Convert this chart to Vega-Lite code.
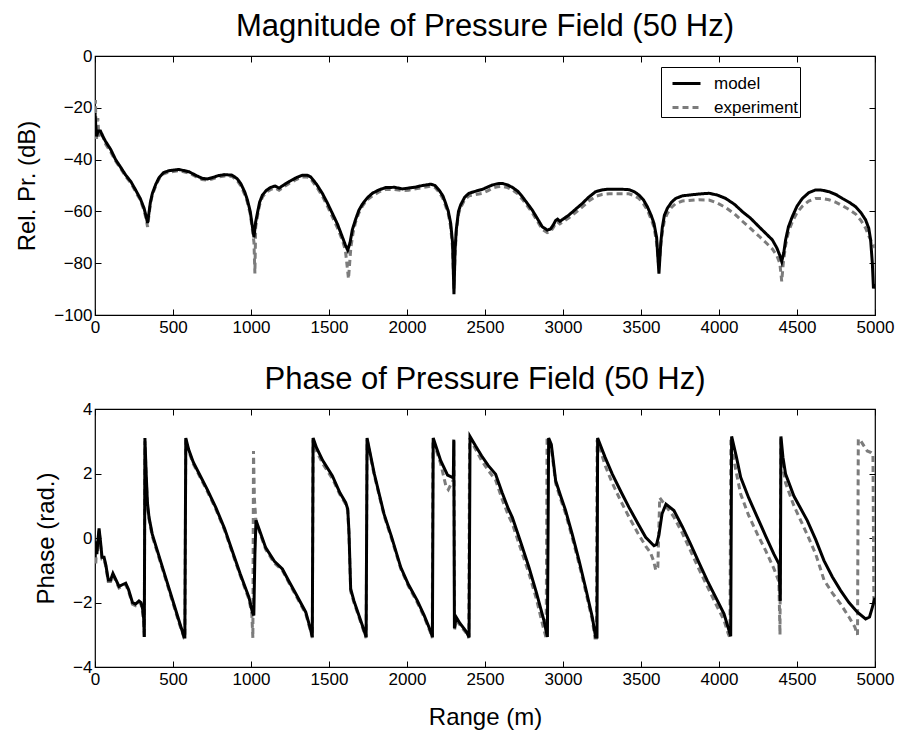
{
 "$schema": "https://vega.github.io/schema/vega-lite/v6.json",
 "background": "white",
 "padding": {"left": 15, "top": 10, "right": 2, "bottom": 0},
 "spacing": 27,
 "config": {
  "view": {"stroke": "black", "strokeWidth": 1.2},
  "font": "Liberation Sans",
  "axis": {"grid": false, "domain": false, "ticks": true, "tickColor": "black", "tickSize": -6, "tickWidth": 1,
   "labelFont": "Liberation Sans", "labelFontSize": 17, "labelColor": "black", "labelFlush": false, "labelOverlap": false,
   "titleFont": "Liberation Sans", "titleFontSize": 24, "titleFontWeight": "normal", "titleColor": "black"},
  "axisY": {"titlePadding": 14, "labelPadding": 9},
  "axisX": {"titlePadding": 18, "labelPadding": 10, "format": "d"},
  "title": {"font": "Liberation Sans", "fontSize": 31, "fontWeight": "normal", "color": "black", "anchor": "middle", "baseline": "alphabetic", "offset": 4}
 },
 "datasets": {
  "mag": [
   {"r":0,"v":-22,"s":"model"},{"r":5,"v":-27,"s":"model"},{"r":10,"v":-31,"s":"model"},{"r":20,"v":-29,"s":"model"},{"r":35,"v":-29,"s":"model"},{"r":50,"v":-31,"s":"model"},{"r":68,"v":-33,"s":"model"},{"r":100,"v":-36,"s":"model"},{"r":132,"v":-40,"s":"model"},{"r":165,"v":-43,"s":"model"},{"r":197,"v":-46,"s":"model"},{"r":230,"v":-48.5,"s":"model"},{"r":261,"v":-51.8,"s":"model"},{"r":290,"v":-55,"s":"model"},{"r":314,"v":-58.7,"s":"model"},{"r":328,"v":-62,"s":"model"},{"r":337,"v":-64.5,"s":"model"},{"r":345,"v":-61,"s":"model"},{"r":355,"v":-56.5,"s":"model"},{"r":368,"v":-53,"s":"model"},{"r":390,"v":-49.5,"s":"model"},{"r":410,"v":-47,"s":"model"},{"r":440,"v":-45,"s":"model"},{"r":474,"v":-44.3,"s":"model"},{"r":538,"v":-43.8,"s":"model"},{"r":603,"v":-44.7,"s":"model"},{"r":650,"v":-46.2,"s":"model"},{"r":686,"v":-47.2,"s":"model"},{"r":720,"v":-47.5,"s":"model"},{"r":750,"v":-47,"s":"model"},{"r":790,"v":-46.2,"s":"model"},{"r":830,"v":-45.8,"s":"model"},{"r":878,"v":-46,"s":"model"},{"r":910,"v":-47.3,"s":"model"},{"r":934,"v":-49.2,"s":"model"},{"r":960,"v":-52.5,"s":"model"},{"r":977,"v":-55.6,"s":"model"},{"r":995,"v":-60,"s":"model"},{"r":1009,"v":-65.9,"s":"model"},{"r":1019,"v":-70,"s":"model"},{"r":1030,"v":-64,"s":"model"},{"r":1041,"v":-60.7,"s":"model"},{"r":1055,"v":-56.5,"s":"model"},{"r":1073,"v":-53.7,"s":"model"},{"r":1100,"v":-51.8,"s":"model"},{"r":1127,"v":-50.7,"s":"model"},{"r":1155,"v":-50.2,"s":"model"},{"r":1180,"v":-51,"s":"model"},{"r":1210,"v":-49.8,"s":"model"},{"r":1244,"v":-48.5,"s":"model"},{"r":1290,"v":-47,"s":"model"},{"r":1329,"v":-46,"s":"model"},{"r":1360,"v":-46,"s":"model"},{"r":1383,"v":-46.7,"s":"model"},{"r":1420,"v":-49.5,"s":"model"},{"r":1457,"v":-53,"s":"model"},{"r":1490,"v":-56.8,"s":"model"},{"r":1521,"v":-60.7,"s":"model"},{"r":1555,"v":-65,"s":"model"},{"r":1585,"v":-69.8,"s":"model"},{"r":1605,"v":-73,"s":"model"},{"r":1620,"v":-75,"s":"model"},{"r":1635,"v":-72,"s":"model"},{"r":1650,"v":-67,"s":"model"},{"r":1671,"v":-63,"s":"model"},{"r":1692,"v":-59.5,"s":"model"},{"r":1714,"v":-57.2,"s":"model"},{"r":1745,"v":-54.8,"s":"model"},{"r":1778,"v":-53,"s":"model"},{"r":1820,"v":-51.7,"s":"model"},{"r":1863,"v":-50.8,"s":"model"},{"r":1920,"v":-50.7,"s":"model"},{"r":1970,"v":-51.3,"s":"model"},{"r":2010,"v":-51,"s":"model"},{"r":2056,"v":-50.6,"s":"model"},{"r":2100,"v":-50,"s":"model"},{"r":2152,"v":-49.5,"s":"model"},{"r":2180,"v":-50,"s":"model"},{"r":2205,"v":-51.7,"s":"model"},{"r":2230,"v":-54,"s":"model"},{"r":2248,"v":-56.9,"s":"model"},{"r":2265,"v":-60,"s":"model"},{"r":2280,"v":-64.6,"s":"model"},{"r":2292,"v":-72,"s":"model"},{"r":2301,"v":-92,"s":"model"},{"r":2308,"v":-75,"s":"model"},{"r":2316,"v":-67,"s":"model"},{"r":2330,"v":-60,"s":"model"},{"r":2344,"v":-57.5,"s":"model"},{"r":2370,"v":-54.5,"s":"model"},{"r":2397,"v":-53,"s":"model"},{"r":2440,"v":-52.2,"s":"model"},{"r":2483,"v":-51.5,"s":"model"},{"r":2520,"v":-50.5,"s":"model"},{"r":2547,"v":-49.8,"s":"model"},{"r":2580,"v":-49.3,"s":"model"},{"r":2611,"v":-49.2,"s":"model"},{"r":2645,"v":-49.8,"s":"model"},{"r":2675,"v":-50.7,"s":"model"},{"r":2710,"v":-52.2,"s":"model"},{"r":2739,"v":-54.3,"s":"model"},{"r":2770,"v":-56.8,"s":"model"},{"r":2803,"v":-59.5,"s":"model"},{"r":2835,"v":-62.7,"s":"model"},{"r":2867,"v":-65.9,"s":"model"},{"r":2899,"v":-67.2,"s":"model"},{"r":2920,"v":-66.8,"s":"model"},{"r":2940,"v":-65,"s":"model"},{"r":2953,"v":-63.5,"s":"model"},{"r":2965,"v":-63,"s":"model"},{"r":2980,"v":-63.8,"s":"model"},{"r":3000,"v":-63,"s":"model"},{"r":3038,"v":-61.4,"s":"model"},{"r":3080,"v":-59.2,"s":"model"},{"r":3124,"v":-56.9,"s":"model"},{"r":3165,"v":-54.5,"s":"model"},{"r":3209,"v":-52.4,"s":"model"},{"r":3250,"v":-51.7,"s":"model"},{"r":3295,"v":-51.4,"s":"model"},{"r":3359,"v":-51.4,"s":"model"},{"r":3423,"v":-51.6,"s":"model"},{"r":3460,"v":-52.5,"s":"model"},{"r":3487,"v":-53.7,"s":"model"},{"r":3515,"v":-55.5,"s":"model"},{"r":3541,"v":-58.2,"s":"model"},{"r":3565,"v":-61.5,"s":"model"},{"r":3583,"v":-64.6,"s":"model"},{"r":3600,"v":-70,"s":"model"},{"r":3615,"v":-84,"s":"model"},{"r":3627,"v":-72,"s":"model"},{"r":3637,"v":-66,"s":"model"},{"r":3650,"v":-61.5,"s":"model"},{"r":3669,"v":-58.8,"s":"model"},{"r":3695,"v":-56.5,"s":"model"},{"r":3722,"v":-55,"s":"model"},{"r":3765,"v":-54,"s":"model"},{"r":3808,"v":-53.7,"s":"model"},{"r":3870,"v":-53.3,"s":"model"},{"r":3936,"v":-53,"s":"model"},{"r":3990,"v":-53.7,"s":"model"},{"r":4043,"v":-55,"s":"model"},{"r":4100,"v":-57.3,"s":"model"},{"r":4150,"v":-60.1,"s":"model"},{"r":4200,"v":-62.5,"s":"model"},{"r":4256,"v":-65.9,"s":"model"},{"r":4300,"v":-68.5,"s":"model"},{"r":4342,"v":-71,"s":"model"},{"r":4370,"v":-74,"s":"model"},{"r":4390,"v":-77,"s":"model"},{"r":4402,"v":-79.4,"s":"model"},{"r":4415,"v":-76,"s":"model"},{"r":4427,"v":-71,"s":"model"},{"r":4445,"v":-66,"s":"model"},{"r":4470,"v":-62,"s":"model"},{"r":4500,"v":-58,"s":"model"},{"r":4534,"v":-55,"s":"model"},{"r":4575,"v":-52.8,"s":"model"},{"r":4620,"v":-51.7,"s":"model"},{"r":4660,"v":-51.8,"s":"model"},{"r":4705,"v":-52.4,"s":"model"},{"r":4750,"v":-53.5,"s":"model"},{"r":4791,"v":-55,"s":"model"},{"r":4835,"v":-56.5,"s":"model"},{"r":4876,"v":-58.2,"s":"model"},{"r":4910,"v":-60.5,"s":"model"},{"r":4940,"v":-63.3,"s":"model"},{"r":4960,"v":-66.5,"s":"model"},{"r":4972,"v":-71,"s":"model"},{"r":4983,"v":-80,"s":"model"},{"r":4990,"v":-89.7,"s":"model"},{"r":5000,"v":-88,"s":"model"},
   {"r":0,"v":-30,"s":"experiment"},{"r":3,"v":-17,"s":"experiment"},{"r":6,"v":-27,"s":"experiment"},{"r":10,"v":-32,"s":"experiment"},{"r":18,"v":-24,"s":"experiment"},{"r":25,"v":-31,"s":"experiment"},{"r":35,"v":-29,"s":"experiment"},{"r":50,"v":-31,"s":"experiment"},{"r":68,"v":-34,"s":"experiment"},{"r":100,"v":-37,"s":"experiment"},{"r":132,"v":-40.5,"s":"experiment"},{"r":165,"v":-43.5,"s":"experiment"},{"r":197,"v":-46.5,"s":"experiment"},{"r":230,"v":-49,"s":"experiment"},{"r":261,"v":-52.5,"s":"experiment"},{"r":290,"v":-55.5,"s":"experiment"},{"r":314,"v":-59.5,"s":"experiment"},{"r":328,"v":-63,"s":"experiment"},{"r":337,"v":-66,"s":"experiment"},{"r":345,"v":-62,"s":"experiment"},{"r":355,"v":-57,"s":"experiment"},{"r":368,"v":-53.5,"s":"experiment"},{"r":390,"v":-50,"s":"experiment"},{"r":410,"v":-47.5,"s":"experiment"},{"r":440,"v":-45.5,"s":"experiment"},{"r":474,"v":-44.8,"s":"experiment"},{"r":538,"v":-44.3,"s":"experiment"},{"r":603,"v":-45.2,"s":"experiment"},{"r":650,"v":-46.7,"s":"experiment"},{"r":686,"v":-47.7,"s":"experiment"},{"r":720,"v":-48,"s":"experiment"},{"r":750,"v":-47.5,"s":"experiment"},{"r":790,"v":-46.7,"s":"experiment"},{"r":830,"v":-46.3,"s":"experiment"},{"r":878,"v":-46.5,"s":"experiment"},{"r":910,"v":-48,"s":"experiment"},{"r":934,"v":-50,"s":"experiment"},{"r":960,"v":-53.5,"s":"experiment"},{"r":977,"v":-56.5,"s":"experiment"},{"r":995,"v":-61,"s":"experiment"},{"r":1009,"v":-67,"s":"experiment"},{"r":1019,"v":-72,"s":"experiment"},{"r":1025,"v":-84,"s":"experiment"},{"r":1030,"v":-66,"s":"experiment"},{"r":1041,"v":-62,"s":"experiment"},{"r":1055,"v":-57.5,"s":"experiment"},{"r":1073,"v":-54.5,"s":"experiment"},{"r":1100,"v":-52.5,"s":"experiment"},{"r":1127,"v":-51.5,"s":"experiment"},{"r":1155,"v":-51,"s":"experiment"},{"r":1180,"v":-51.8,"s":"experiment"},{"r":1210,"v":-50.5,"s":"experiment"},{"r":1244,"v":-49.2,"s":"experiment"},{"r":1290,"v":-47.7,"s":"experiment"},{"r":1329,"v":-46.7,"s":"experiment"},{"r":1360,"v":-46.7,"s":"experiment"},{"r":1383,"v":-47.5,"s":"experiment"},{"r":1420,"v":-50.5,"s":"experiment"},{"r":1457,"v":-54,"s":"experiment"},{"r":1490,"v":-58,"s":"experiment"},{"r":1521,"v":-62,"s":"experiment"},{"r":1555,"v":-66.5,"s":"experiment"},{"r":1585,"v":-71,"s":"experiment"},{"r":1605,"v":-75,"s":"experiment"},{"r":1625,"v":-86,"s":"experiment"},{"r":1640,"v":-74,"s":"experiment"},{"r":1655,"v":-68,"s":"experiment"},{"r":1671,"v":-64,"s":"experiment"},{"r":1692,"v":-60.5,"s":"experiment"},{"r":1714,"v":-58,"s":"experiment"},{"r":1745,"v":-55.5,"s":"experiment"},{"r":1778,"v":-54,"s":"experiment"},{"r":1820,"v":-52.5,"s":"experiment"},{"r":1863,"v":-51.5,"s":"experiment"},{"r":1920,"v":-51.5,"s":"experiment"},{"r":1970,"v":-52,"s":"experiment"},{"r":2010,"v":-51.8,"s":"experiment"},{"r":2056,"v":-51.3,"s":"experiment"},{"r":2100,"v":-50.8,"s":"experiment"},{"r":2152,"v":-50.3,"s":"experiment"},{"r":2180,"v":-50.8,"s":"experiment"},{"r":2205,"v":-52.5,"s":"experiment"},{"r":2230,"v":-55,"s":"experiment"},{"r":2248,"v":-58,"s":"experiment"},{"r":2265,"v":-61,"s":"experiment"},{"r":2280,"v":-66,"s":"experiment"},{"r":2292,"v":-74,"s":"experiment"},{"r":2301,"v":-90,"s":"experiment"},{"r":2308,"v":-77,"s":"experiment"},{"r":2316,"v":-68,"s":"experiment"},{"r":2330,"v":-61,"s":"experiment"},{"r":2344,"v":-58.5,"s":"experiment"},{"r":2370,"v":-55.5,"s":"experiment"},{"r":2397,"v":-54,"s":"experiment"},{"r":2440,"v":-53.5,"s":"experiment"},{"r":2483,"v":-53,"s":"experiment"},{"r":2520,"v":-52,"s":"experiment"},{"r":2547,"v":-51,"s":"experiment"},{"r":2580,"v":-50.5,"s":"experiment"},{"r":2611,"v":-50.3,"s":"experiment"},{"r":2645,"v":-50.8,"s":"experiment"},{"r":2675,"v":-51.7,"s":"experiment"},{"r":2710,"v":-53.2,"s":"experiment"},{"r":2739,"v":-55.3,"s":"experiment"},{"r":2770,"v":-57.8,"s":"experiment"},{"r":2803,"v":-60.5,"s":"experiment"},{"r":2835,"v":-63.7,"s":"experiment"},{"r":2867,"v":-66.9,"s":"experiment"},{"r":2899,"v":-68.2,"s":"experiment"},{"r":2920,"v":-67.8,"s":"experiment"},{"r":2940,"v":-66,"s":"experiment"},{"r":2953,"v":-64.5,"s":"experiment"},{"r":2965,"v":-64,"s":"experiment"},{"r":2980,"v":-64.8,"s":"experiment"},{"r":3000,"v":-64,"s":"experiment"},{"r":3038,"v":-62.5,"s":"experiment"},{"r":3080,"v":-60.5,"s":"experiment"},{"r":3124,"v":-58.3,"s":"experiment"},{"r":3165,"v":-56,"s":"experiment"},{"r":3209,"v":-54.2,"s":"experiment"},{"r":3250,"v":-53.5,"s":"experiment"},{"r":3295,"v":-53.2,"s":"experiment"},{"r":3359,"v":-53.2,"s":"experiment"},{"r":3423,"v":-53.2,"s":"experiment"},{"r":3460,"v":-54,"s":"experiment"},{"r":3487,"v":-55,"s":"experiment"},{"r":3515,"v":-57,"s":"experiment"},{"r":3541,"v":-59.5,"s":"experiment"},{"r":3565,"v":-63,"s":"experiment"},{"r":3583,"v":-66,"s":"experiment"},{"r":3600,"v":-72,"s":"experiment"},{"r":3615,"v":-82,"s":"experiment"},{"r":3627,"v":-73,"s":"experiment"},{"r":3637,"v":-68,"s":"experiment"},{"r":3650,"v":-63.5,"s":"experiment"},{"r":3669,"v":-60.8,"s":"experiment"},{"r":3695,"v":-58.5,"s":"experiment"},{"r":3722,"v":-57,"s":"experiment"},{"r":3765,"v":-56,"s":"experiment"},{"r":3808,"v":-55.8,"s":"experiment"},{"r":3870,"v":-55.5,"s":"experiment"},{"r":3936,"v":-55.6,"s":"experiment"},{"r":3990,"v":-56.8,"s":"experiment"},{"r":4043,"v":-58.5,"s":"experiment"},{"r":4100,"v":-61,"s":"experiment"},{"r":4150,"v":-63.8,"s":"experiment"},{"r":4200,"v":-66.5,"s":"experiment"},{"r":4256,"v":-69.5,"s":"experiment"},{"r":4300,"v":-72,"s":"experiment"},{"r":4342,"v":-74.5,"s":"experiment"},{"r":4370,"v":-77,"s":"experiment"},{"r":4390,"v":-80,"s":"experiment"},{"r":4402,"v":-87,"s":"experiment"},{"r":4412,"v":-80,"s":"experiment"},{"r":4427,"v":-73,"s":"experiment"},{"r":4445,"v":-68,"s":"experiment"},{"r":4470,"v":-64,"s":"experiment"},{"r":4500,"v":-60.5,"s":"experiment"},{"r":4534,"v":-58,"s":"experiment"},{"r":4575,"v":-56,"s":"experiment"},{"r":4620,"v":-55,"s":"experiment"},{"r":4660,"v":-55,"s":"experiment"},{"r":4705,"v":-55.5,"s":"experiment"},{"r":4750,"v":-56.5,"s":"experiment"},{"r":4791,"v":-57.8,"s":"experiment"},{"r":4835,"v":-59.3,"s":"experiment"},{"r":4876,"v":-61,"s":"experiment"},{"r":4910,"v":-63.5,"s":"experiment"},{"r":4940,"v":-66.5,"s":"experiment"},{"r":4960,"v":-69.5,"s":"experiment"},{"r":4980,"v":-72,"s":"experiment"},{"r":5000,"v":-74,"s":"experiment"}
  ],
  "phase": [
   {"r":0,"v":-0.6,"s":"model"},{"r":6,"v":-0.1,"s":"model"},{"r":12,"v":-0.5,"s":"model"},{"r":20,"v":0.0,"s":"model"},{"r":26,"v":0.3,"s":"model"},{"r":35,"v":-0.1,"s":"model"},{"r":45,"v":-0.6,"s":"model"},{"r":58,"v":-0.6,"s":"model"},{"r":70,"v":-0.85,"s":"model"},{"r":85,"v":-1.3,"s":"model"},{"r":100,"v":-1.3,"s":"model"},{"r":115,"v":-1.1,"s":"model"},{"r":130,"v":-1.25,"s":"model"},{"r":154,"v":-1.5,"s":"model"},{"r":175,"v":-1.45,"s":"model"},{"r":197,"v":-1.4,"s":"model"},{"r":215,"v":-1.6,"s":"model"},{"r":240,"v":-2.0,"s":"model"},{"r":260,"v":-2.05,"s":"model"},{"r":282,"v":-1.95,"s":"model"},{"r":295,"v":-2.0,"s":"model"},{"r":305,"v":-2.2,"s":"model"},{"r":312,"v":-2.5,"s":"model"},{"r":316,"v":-3.07,"s":"model"},{"r":320,"v":3.1,"s":"model"},{"r":328,"v":2.0,"s":"model"},{"r":336,"v":1.1,"s":"model"},{"r":346,"v":0.65,"s":"model"},{"r":367,"v":0.12,"s":"model"},{"r":400,"v":-0.4,"s":"model"},{"r":453,"v":-1.23,"s":"model"},{"r":500,"v":-1.96,"s":"model"},{"r":540,"v":-2.59,"s":"model"},{"r":571,"v":-3.07,"s":"model"},{"r":576,"v":-3.07,"s":"model"},{"r":582,"v":3.1,"s":"model"},{"r":600,"v":2.75,"s":"model"},{"r":630,"v":2.35,"s":"model"},{"r":667,"v":2.0,"s":"model"},{"r":720,"v":1.5,"s":"model"},{"r":774,"v":0.95,"s":"model"},{"r":830,"v":0.3,"s":"model"},{"r":880,"v":-0.4,"s":"model"},{"r":930,"v":-1.1,"s":"model"},{"r":987,"v":-1.84,"s":"model"},{"r":1009,"v":-2.3,"s":"model"},{"r":1018,"v":-2.4,"s":"model"},{"r":1025,"v":-0.5,"s":"model"},{"r":1032,"v":0.55,"s":"model"},{"r":1050,"v":0.3,"s":"model"},{"r":1094,"v":-0.3,"s":"model"},{"r":1150,"v":-0.72,"s":"model"},{"r":1201,"v":-0.96,"s":"model"},{"r":1244,"v":-1.35,"s":"model"},{"r":1290,"v":-1.75,"s":"model"},{"r":1351,"v":-2.3,"s":"model"},{"r":1380,"v":-2.8,"s":"model"},{"r":1393,"v":-3.07,"s":"model"},{"r":1398,"v":3.1,"s":"model"},{"r":1420,"v":2.8,"s":"model"},{"r":1460,"v":2.4,"s":"model"},{"r":1521,"v":1.93,"s":"model"},{"r":1570,"v":1.4,"s":"model"},{"r":1607,"v":1.1,"s":"model"},{"r":1620,"v":0.9,"s":"model"},{"r":1628,"v":0.2,"s":"model"},{"r":1639,"v":-1.58,"s":"model"},{"r":1660,"v":-1.95,"s":"model"},{"r":1692,"v":-2.4,"s":"model"},{"r":1720,"v":-2.8,"s":"model"},{"r":1738,"v":-3.07,"s":"model"},{"r":1744,"v":3.1,"s":"model"},{"r":1790,"v":2.0,"s":"model"},{"r":1853,"v":0.74,"s":"model"},{"r":1900,"v":0.05,"s":"model"},{"r":1960,"v":-0.91,"s":"model"},{"r":2010,"v":-1.45,"s":"model"},{"r":2066,"v":-1.94,"s":"model"},{"r":2110,"v":-2.4,"s":"model"},{"r":2152,"v":-2.9,"s":"model"},{"r":2163,"v":-3.07,"s":"model"},{"r":2168,"v":3.1,"s":"model"},{"r":2216,"v":2.4,"s":"model"},{"r":2260,"v":1.95,"s":"model"},{"r":2290,"v":1.88,"s":"model"},{"r":2297,"v":1.9,"s":"model"},{"r":2300,"v":3.05,"s":"model"},{"r":2304,"v":-2.8,"s":"model"},{"r":2315,"v":-2.45,"s":"model"},{"r":2340,"v":-2.65,"s":"model"},{"r":2380,"v":-2.9,"s":"model"},{"r":2398,"v":-3.08,"s":"model"},{"r":2404,"v":3.15,"s":"model"},{"r":2440,"v":2.85,"s":"model"},{"r":2478,"v":2.55,"s":"model"},{"r":2520,"v":2.25,"s":"model"},{"r":2568,"v":1.98,"s":"model"},{"r":2610,"v":1.4,"s":"model"},{"r":2650,"v":0.9,"s":"model"},{"r":2675,"v":0.64,"s":"model"},{"r":2730,"v":-0.15,"s":"model"},{"r":2782,"v":-0.91,"s":"model"},{"r":2830,"v":-1.7,"s":"model"},{"r":2878,"v":-2.56,"s":"model"},{"r":2900,"v":-3.07,"s":"model"},{"r":2908,"v":3.1,"s":"model"},{"r":2925,"v":2.9,"s":"model"},{"r":2953,"v":1.78,"s":"model"},{"r":2985,"v":1.3,"s":"model"},{"r":3017,"v":0.85,"s":"model"},{"r":3060,"v":0.1,"s":"model"},{"r":3103,"v":-0.7,"s":"model"},{"r":3145,"v":-1.55,"s":"model"},{"r":3188,"v":-2.46,"s":"model"},{"r":3209,"v":-3.07,"s":"model"},{"r":3218,"v":-3.07,"s":"model"},{"r":3222,"v":3.1,"s":"model"},{"r":3270,"v":2.5,"s":"model"},{"r":3316,"v":1.98,"s":"model"},{"r":3370,"v":1.45,"s":"model"},{"r":3423,"v":0.95,"s":"model"},{"r":3480,"v":0.45,"s":"model"},{"r":3530,"v":0.02,"s":"model"},{"r":3583,"v":-0.24,"s":"model"},{"r":3600,"v":-0.2,"s":"model"},{"r":3615,"v":0.1,"s":"model"},{"r":3635,"v":0.75,"s":"model"},{"r":3660,"v":1.05,"s":"model"},{"r":3711,"v":0.85,"s":"model"},{"r":3765,"v":0.35,"s":"model"},{"r":3818,"v":-0.19,"s":"model"},{"r":3870,"v":-0.75,"s":"model"},{"r":3925,"v":-1.32,"s":"model"},{"r":3980,"v":-1.85,"s":"model"},{"r":4032,"v":-2.35,"s":"model"},{"r":4060,"v":-2.8,"s":"model"},{"r":4075,"v":-3.05,"s":"model"},{"r":4081,"v":3.15,"s":"model"},{"r":4110,"v":2.55,"s":"model"},{"r":4139,"v":1.88,"s":"model"},{"r":4190,"v":1.25,"s":"model"},{"r":4246,"v":0.64,"s":"model"},{"r":4300,"v":0.05,"s":"model"},{"r":4352,"v":-0.5,"s":"model"},{"r":4384,"v":-0.8,"s":"model"},{"r":4393,"v":-1.95,"s":"model"},{"r":4397,"v":3.15,"s":"model"},{"r":4410,"v":2.5,"s":"model"},{"r":4427,"v":1.98,"s":"model"},{"r":4480,"v":1.3,"s":"model"},{"r":4566,"v":0.54,"s":"model"},{"r":4620,"v":-0.05,"s":"model"},{"r":4673,"v":-0.7,"s":"model"},{"r":4726,"v":-1.2,"s":"model"},{"r":4780,"v":-1.63,"s":"model"},{"r":4833,"v":-2.0,"s":"model"},{"r":4887,"v":-2.3,"s":"model"},{"r":4940,"v":-2.51,"s":"model"},{"r":4965,"v":-2.45,"s":"model"},{"r":4983,"v":-2.15,"s":"model"},{"r":5000,"v":-1.85,"s":"model"},
   {"r":0,"v":-0.5,"s":"experiment"},{"r":5,"v":-0.8,"s":"experiment"},{"r":10,"v":-0.2,"s":"experiment"},{"r":18,"v":-0.4,"s":"experiment"},{"r":26,"v":0.25,"s":"experiment"},{"r":35,"v":-0.2,"s":"experiment"},{"r":45,"v":-0.65,"s":"experiment"},{"r":58,"v":-0.65,"s":"experiment"},{"r":70,"v":-0.9,"s":"experiment"},{"r":85,"v":-1.35,"s":"experiment"},{"r":100,"v":-1.35,"s":"experiment"},{"r":115,"v":-1.15,"s":"experiment"},{"r":130,"v":-1.3,"s":"experiment"},{"r":154,"v":-1.55,"s":"experiment"},{"r":175,"v":-1.5,"s":"experiment"},{"r":197,"v":-1.45,"s":"experiment"},{"r":215,"v":-1.65,"s":"experiment"},{"r":240,"v":-2.05,"s":"experiment"},{"r":260,"v":-2.1,"s":"experiment"},{"r":282,"v":-2.0,"s":"experiment"},{"r":295,"v":-2.05,"s":"experiment"},{"r":305,"v":-2.3,"s":"experiment"},{"r":312,"v":-2.6,"s":"experiment"},{"r":316,"v":-3.1,"s":"experiment"},{"r":320,"v":3.0,"s":"experiment"},{"r":328,"v":1.9,"s":"experiment"},{"r":336,"v":1.0,"s":"experiment"},{"r":346,"v":0.6,"s":"experiment"},{"r":367,"v":0.05,"s":"experiment"},{"r":400,"v":-0.45,"s":"experiment"},{"r":453,"v":-1.28,"s":"experiment"},{"r":500,"v":-2.02,"s":"experiment"},{"r":540,"v":-2.65,"s":"experiment"},{"r":571,"v":-3.1,"s":"experiment"},{"r":576,"v":-3.1,"s":"experiment"},{"r":582,"v":3.05,"s":"experiment"},{"r":600,"v":2.7,"s":"experiment"},{"r":630,"v":2.3,"s":"experiment"},{"r":667,"v":1.95,"s":"experiment"},{"r":720,"v":1.45,"s":"experiment"},{"r":774,"v":0.9,"s":"experiment"},{"r":830,"v":0.25,"s":"experiment"},{"r":880,"v":-0.45,"s":"experiment"},{"r":930,"v":-1.15,"s":"experiment"},{"r":987,"v":-1.9,"s":"experiment"},{"r":1005,"v":-2.35,"s":"experiment"},{"r":1012,"v":-3.1,"s":"experiment"},{"r":1016,"v":2.7,"s":"experiment"},{"r":1022,"v":1.2,"s":"experiment"},{"r":1032,"v":0.5,"s":"experiment"},{"r":1050,"v":0.25,"s":"experiment"},{"r":1094,"v":-0.35,"s":"experiment"},{"r":1150,"v":-0.78,"s":"experiment"},{"r":1201,"v":-1.0,"s":"experiment"},{"r":1244,"v":-1.4,"s":"experiment"},{"r":1290,"v":-1.8,"s":"experiment"},{"r":1351,"v":-2.35,"s":"experiment"},{"r":1380,"v":-2.85,"s":"experiment"},{"r":1393,"v":-3.1,"s":"experiment"},{"r":1398,"v":3.05,"s":"experiment"},{"r":1420,"v":2.7,"s":"experiment"},{"r":1460,"v":2.3,"s":"experiment"},{"r":1521,"v":1.85,"s":"experiment"},{"r":1570,"v":1.35,"s":"experiment"},{"r":1607,"v":1.05,"s":"experiment"},{"r":1620,"v":0.85,"s":"experiment"},{"r":1628,"v":0.1,"s":"experiment"},{"r":1639,"v":-1.65,"s":"experiment"},{"r":1660,"v":-2.0,"s":"experiment"},{"r":1692,"v":-2.45,"s":"experiment"},{"r":1720,"v":-2.85,"s":"experiment"},{"r":1738,"v":-3.1,"s":"experiment"},{"r":1744,"v":3.05,"s":"experiment"},{"r":1790,"v":1.95,"s":"experiment"},{"r":1853,"v":0.7,"s":"experiment"},{"r":1900,"v":0.0,"s":"experiment"},{"r":1960,"v":-0.95,"s":"experiment"},{"r":2010,"v":-1.5,"s":"experiment"},{"r":2066,"v":-2.0,"s":"experiment"},{"r":2110,"v":-2.45,"s":"experiment"},{"r":2152,"v":-2.95,"s":"experiment"},{"r":2162,"v":-3.1,"s":"experiment"},{"r":2166,"v":3.05,"s":"experiment"},{"r":2216,"v":2.3,"s":"experiment"},{"r":2250,"v":1.6,"s":"experiment"},{"r":2265,"v":1.5,"s":"experiment"},{"r":2285,"v":1.7,"s":"experiment"},{"r":2297,"v":1.8,"s":"experiment"},{"r":2301,"v":3.0,"s":"experiment"},{"r":2305,"v":-2.85,"s":"experiment"},{"r":2315,"v":-2.55,"s":"experiment"},{"r":2340,"v":-2.7,"s":"experiment"},{"r":2380,"v":-2.95,"s":"experiment"},{"r":2396,"v":-3.1,"s":"experiment"},{"r":2401,"v":3.1,"s":"experiment"},{"r":2440,"v":2.75,"s":"experiment"},{"r":2478,"v":2.4,"s":"experiment"},{"r":2520,"v":2.1,"s":"experiment"},{"r":2568,"v":1.8,"s":"experiment"},{"r":2610,"v":1.2,"s":"experiment"},{"r":2650,"v":0.7,"s":"experiment"},{"r":2675,"v":0.45,"s":"experiment"},{"r":2730,"v":-0.35,"s":"experiment"},{"r":2782,"v":-1.1,"s":"experiment"},{"r":2830,"v":-1.9,"s":"experiment"},{"r":2870,"v":-2.7,"s":"experiment"},{"r":2892,"v":-3.1,"s":"experiment"},{"r":2898,"v":3.1,"s":"experiment"},{"r":2925,"v":2.8,"s":"experiment"},{"r":2953,"v":1.7,"s":"experiment"},{"r":2985,"v":1.2,"s":"experiment"},{"r":3017,"v":0.75,"s":"experiment"},{"r":3060,"v":0.0,"s":"experiment"},{"r":3103,"v":-0.8,"s":"experiment"},{"r":3145,"v":-1.65,"s":"experiment"},{"r":3188,"v":-2.55,"s":"experiment"},{"r":3205,"v":-3.1,"s":"experiment"},{"r":3214,"v":-3.1,"s":"experiment"},{"r":3219,"v":3.05,"s":"experiment"},{"r":3270,"v":2.25,"s":"experiment"},{"r":3316,"v":1.7,"s":"experiment"},{"r":3370,"v":1.15,"s":"experiment"},{"r":3423,"v":0.65,"s":"experiment"},{"r":3480,"v":0.15,"s":"experiment"},{"r":3530,"v":-0.25,"s":"experiment"},{"r":3560,"v":-0.45,"s":"experiment"},{"r":3580,"v":-0.7,"s":"experiment"},{"r":3595,"v":-1.0,"s":"experiment"},{"r":3608,"v":-0.9,"s":"experiment"},{"r":3620,"v":1.25,"s":"experiment"},{"r":3650,"v":1.05,"s":"experiment"},{"r":3711,"v":0.65,"s":"experiment"},{"r":3765,"v":0.15,"s":"experiment"},{"r":3818,"v":-0.4,"s":"experiment"},{"r":3870,"v":-0.95,"s":"experiment"},{"r":3925,"v":-1.5,"s":"experiment"},{"r":3980,"v":-2.05,"s":"experiment"},{"r":4032,"v":-2.55,"s":"experiment"},{"r":4058,"v":-2.95,"s":"experiment"},{"r":4070,"v":-3.1,"s":"experiment"},{"r":4076,"v":3.05,"s":"experiment"},{"r":4090,"v":2.6,"s":"experiment"},{"r":4110,"v":2.05,"s":"experiment"},{"r":4139,"v":1.36,"s":"experiment"},{"r":4190,"v":0.7,"s":"experiment"},{"r":4246,"v":0.12,"s":"experiment"},{"r":4300,"v":-0.4,"s":"experiment"},{"r":4352,"v":-0.95,"s":"experiment"},{"r":4384,"v":-1.35,"s":"experiment"},{"r":4391,"v":-3.0,"s":"experiment"},{"r":4396,"v":3.1,"s":"experiment"},{"r":4410,"v":2.2,"s":"experiment"},{"r":4427,"v":1.7,"s":"experiment"},{"r":4480,"v":1.0,"s":"experiment"},{"r":4566,"v":0.1,"s":"experiment"},{"r":4620,"v":-0.5,"s":"experiment"},{"r":4673,"v":-1.3,"s":"experiment"},{"r":4726,"v":-1.7,"s":"experiment"},{"r":4780,"v":-2.05,"s":"experiment"},{"r":4833,"v":-2.45,"s":"experiment"},{"r":4870,"v":-2.75,"s":"experiment"},{"r":4888,"v":-3.0,"s":"experiment"},{"r":4893,"v":3.07,"s":"experiment"},{"r":4910,"v":3.0,"s":"experiment"},{"r":4930,"v":2.85,"s":"experiment"},{"r":4950,"v":2.7,"s":"experiment"},{"r":4975,"v":2.65,"s":"experiment"},{"r":4987,"v":2.6,"s":"experiment"},{"r":4993,"v":-2.1,"s":"experiment"},{"r":5000,"v":-1.9,"s":"experiment"}
  ]
 },
 "vconcat": [
  {
   "width": 780, "height": 259,
   "title": {"text": "Magnitude of Pressure Field (50 Hz)"},
   "data": {"name": "mag"},
   "layer": [
    {
     "transform": [{"filter": "datum.s == 'experiment'"}],
     "mark": {"type": "line", "strokeWidth": 3, "clip": true},
     "encoding": {
      "x": {"field": "r", "type": "quantitative", "scale": {"domain": [0, 5000], "nice": false},
       "axis": {"orient": "top", "labels": false, "title": null, "values": [0,500,1000,1500,2000,2500,3000,3500,4000,4500,5000]}},
      "y": {"field": "v", "type": "quantitative", "scale": {"domain": [-100, 0], "nice": false, "zero": false},
       "axis": {"orient": "right", "labels": false, "title": null, "values": [-100,-80,-60,-40,-20,0]}},
      "color": {"field": "s", "type": "nominal", "scale": {"domain": ["model", "experiment"], "range": ["#000000", "#7c7c7c"]},
       "legend": {"title": null, "orient": "none", "legendX": 566, "legendY": 11, "strokeColor": "black", "fillColor": "white", "padding": 1, "symbolOffset": 9, "symbolType": "stroke", "symbolSize": 784, "symbolStrokeWidth": 3, "labelFontSize": 17, "labelFont": "Liberation Sans", "labelColor": "black", "labelOffset": 12, "rowPadding": -12}},
      "strokeDash": {"field": "s", "type": "nominal", "scale": {"domain": ["model", "experiment"], "range": [[1, 0], [6, 4]]},
       "legend": {"title": null, "orient": "none", "legendX": 566, "legendY": 11, "strokeColor": "black", "fillColor": "white", "padding": 1, "symbolOffset": 9, "symbolType": "stroke", "symbolSize": 784, "symbolStrokeWidth": 3, "labelFontSize": 17, "labelFont": "Liberation Sans", "labelColor": "black", "labelOffset": 12, "rowPadding": -12}}
     }
    },
    {
     "transform": [{"filter": "datum.s == 'model'"}],
     "mark": {"type": "line", "strokeWidth": 3, "clip": true},
     "encoding": {
      "x": {"field": "r", "type": "quantitative", "scale": {"domain": [0, 5000], "nice": false},
       "axis": {"orient": "bottom", "title": null, "values": [0,500,1000,1500,2000,2500,3000,3500,4000,4500,5000]}},
      "y": {"field": "v", "type": "quantitative", "scale": {"domain": [-100, 0], "nice": false, "zero": false},
       "axis": {"orient": "left", "title": "Rel. Pr. (dB)", "values": [-100,-80,-60,-40,-20,0]}},
      "color": {"field": "s", "type": "nominal", "scale": {"domain": ["model", "experiment"], "range": ["#000000", "#7c7c7c"]},
       "legend": {"title": null, "orient": "none", "legendX": 566, "legendY": 11, "strokeColor": "black", "fillColor": "white", "padding": 1, "symbolOffset": 9, "symbolType": "stroke", "symbolSize": 784, "symbolStrokeWidth": 3, "labelFontSize": 17, "labelFont": "Liberation Sans", "labelColor": "black", "labelOffset": 12, "rowPadding": -12}},
      "strokeDash": {"field": "s", "type": "nominal", "scale": {"domain": ["model", "experiment"], "range": [[1, 0], [6, 4]]},
       "legend": {"title": null, "orient": "none", "legendX": 566, "legendY": 11, "strokeColor": "black", "fillColor": "white", "padding": 1, "symbolOffset": 9, "symbolType": "stroke", "symbolSize": 784, "symbolStrokeWidth": 3, "labelFontSize": 17, "labelFont": "Liberation Sans", "labelColor": "black", "labelOffset": 12, "rowPadding": -12}}
     }
    }
   ],
   "resolve": {"axis": {"x": "independent", "y": "independent"}}
  },
  {
   "width": 780, "height": 258,
   "title": {"text": "Phase of Pressure Field (50 Hz)"},
   "data": {"name": "phase"},
   "layer": [
    {
     "transform": [{"filter": "datum.s == 'experiment'"}],
     "mark": {"type": "line", "strokeWidth": 3, "color": "#7c7c7c", "strokeDash": [6, 4], "clip": true},
     "encoding": {
      "x": {"field": "r", "type": "quantitative", "scale": {"domain": [0, 5000], "nice": false},
       "axis": {"orient": "top", "labels": false, "title": null, "values": [0,500,1000,1500,2000,2500,3000,3500,4000,4500,5000]}},
      "y": {"field": "v", "type": "quantitative", "scale": {"domain": [-4, 4], "nice": false, "zero": false},
       "axis": {"orient": "right", "labels": false, "title": null, "values": [-4,-2,0,2,4]}}
     }
    },
    {
     "transform": [{"filter": "datum.s == 'model'"}],
     "mark": {"type": "line", "strokeWidth": 3, "color": "#000000", "clip": true},
     "encoding": {
      "x": {"field": "r", "type": "quantitative", "scale": {"domain": [0, 5000], "nice": false},
       "axis": {"orient": "bottom", "title": "Range (m)", "values": [0,500,1000,1500,2000,2500,3000,3500,4000,4500,5000]}},
      "y": {"field": "v", "type": "quantitative", "scale": {"domain": [-4, 4], "nice": false, "zero": false},
       "axis": {"orient": "left", "title": "Phase (rad.)", "values": [-4,-2,0,2,4]}}
     }
    }
   ],
   "resolve": {"axis": {"x": "independent", "y": "independent"}}
  }
 ]
}
